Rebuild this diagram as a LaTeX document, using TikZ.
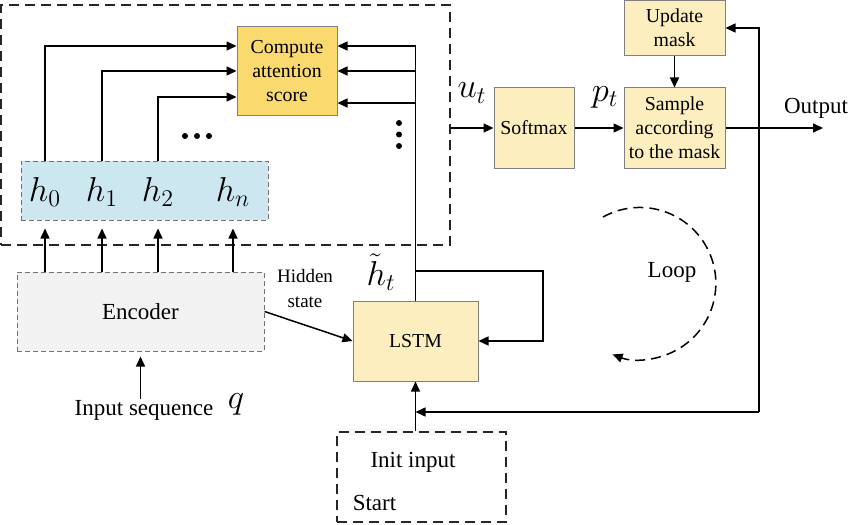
\documentclass[tikz,border=0pt]{standalone}
\usepackage{fontspec}
\setmainfont{Liberation Serif}
\usetikzlibrary{arrows.meta,positioning}
\definecolor{scoregold}{RGB}{250,217,110}
\definecolor{cream}{RGB}{252,238,190}
\definecolor{skyblue}{RGB}{204,231,240}
\definecolor{encgray}{RGB}{242,242,242}

\begin{document}
\begin{tikzpicture}[x=0.5pt,y=-0.5pt,>={Triangle[length=5pt,width=4.5pt]},line width=0.75pt,
  box/.style={draw=gray,line width=0.5pt,fill=#1,inner sep=1pt,align=center,font=\fontsize{9.9}{12}\selectfont},
  dbox/.style={draw=gray!90!black,line width=0.5pt,dash pattern=on 2.5pt off 1.5pt,fill=#1},
  bigdash/.style={draw=black!85,line width=0.75pt,dash pattern=on 5pt off 3pt},
  txt/.style={font=\fontsize{11.5}{14}\selectfont,inner sep=0pt},
  mathlab/.style={font=\fontsize{17.5}{20}\selectfont,inner sep=0pt}]
\useasboundingbox (0,0) rectangle (850,524);

  \node[bigdash, minimum width=224.5pt, minimum height=120pt] (W) at (225.5,125)  {};
  \node[box=scoregold, minimum width=50pt, minimum height=44pt] (C) at (287,71) {Compute\\attention\\score};
  \node[dbox=skyblue, minimum width=123.5pt, minimum height=29.5pt] (H) at (144.5,190.5) {};
  \node[mathlab]        (h0) at (45,192)   {$h_0$};
  \node[mathlab]        (h1) at (102,192)  {$h_1$};
  \node[mathlab]        (h2) at (158,192)  {$h_2$};
  \node[mathlab]        (hn) at (233,192)  {$h_n$};
  \node[dbox=encgray, minimum width=123.5pt, minimum height=39.5pt, txt] (E) at (140.5,311.5) {Encoder};
  \node[txt]            (inp) at (144,410) {Input sequence};
  \node[mathlab]        (q)  at (236,404)  {$q$};
  \node[box=cream, minimum width=62.5pt, minimum height=40pt] (L) at (415.5,341) {LSTM};
  \node[box=white, draw=none, fill=none, font=\fontsize{9.5}{12.5}\selectfont] (hs) at (305,288) {Hidden\\state};
  \node[mathlab]        (ht) at (381,272)  {$\tilde{h}_t$};
  \node[bigdash, minimum width=84.5pt, minimum height=45pt] (I) at (421.5,477) {};
  \node[txt]            (ii) at (413,462)  {Init input};
  \node[txt, anchor=west] (st) at (352,503) {Start};

  \node[box=cream, minimum width=40pt, minimum height=40pt] (S) at (534,128) {Softmax};
  \node[box=cream, minimum width=50.5pt, minimum height=40pt, on grid] (M) [right=70.25pt of S] {Sample\\according\\to the mask};
  \node[box=cream, minimum width=50.5pt, minimum height=27.5pt, on grid] (U) [above=50pt of M] {Update\\mask};
  \node[mathlab]        (ut) at (472,93)   {$u_t$};
  \node[mathlab]        (pt) at (605,97)   {$p_t$};
  \node[txt]            (o)  at (816,108)  {Output};
  \node[txt]            (lp) at (672,272)  {Loop};

  \coordinate (R) at (759,412);
  \coordinate (O) at (823,128);

% hidden states to the score box
\draw[->] (H.north -| h0) |- ([yshift=12.5pt]C.west);
\draw[->] (H.north -| h1) |- (C.west);
\draw[->] (H.north -| h2) |- ([yshift=-13pt]C.west);
\fill (185,136) circle (1.5pt) (197,136) circle (1.5pt) (209,136) circle (1.5pt);

% decoder state back to the score box
\draw[->] (L.north) |- ([yshift=12.5pt]C.east);
\draw[->] (L.north |- C.east) -- (C.east);
\draw[->] (L.north |- 0,103) -- (C.east |- 0,103);
\fill (399,123) circle (1.5pt) (399,134.5) circle (1.5pt) (399,146) circle (1.5pt);
\draw[->] (L.north |- 0,271) -| (543,341) -- (L.east);

% encoder
\draw[->, shorten >=4pt] (E.north -| h0) -- (H.south -| h0);
\draw[->, shorten >=4pt] (E.north -| h1) -- (H.south -| h1);
\draw[->, shorten >=4pt] (E.north -| h2) -- (H.south -| h2);
\draw[->, shorten >=4pt] (E.north -| hn) -- (H.south -| hn);
\draw[->, shorten >=2.5pt] (E.south |- inp.north) -- (E.south);
\path (E.east) edge[->] (L.west);
\draw[->] (L.south |- I.north) -- (L.south);

% output side
\draw[->] (W.east |- S.west) -- (S.west);
\path (S) edge[->] (M)
      (U) edge[->] (M);
\draw[->] (M.east) -- (O);
\draw[->] (R) -- (L.south |- R);
\draw[->] (R) |- (U.east);
\draw[->, dash pattern=on 5pt off 3pt] (603,217) arc[start angle=119, end angle=-111, radius=38pt];
\end{tikzpicture}
\end{document}
